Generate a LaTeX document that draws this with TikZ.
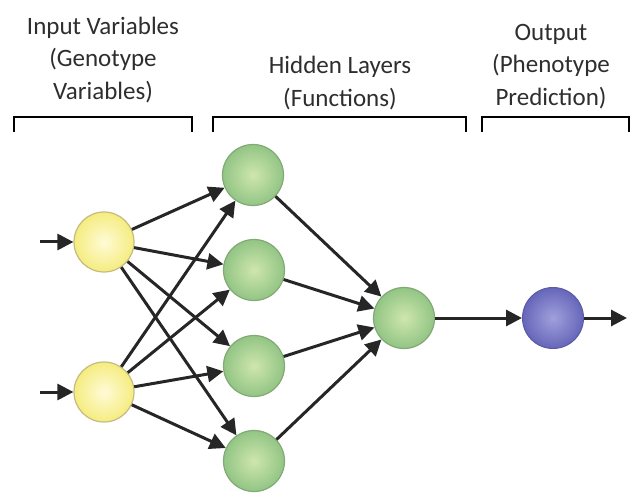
\documentclass[tikz,border=0pt]{standalone}
\usepackage{fontspec}
\setmainfont{Carlito}
\usetikzlibrary{arrows.meta}
\definecolor{yelo}{HTML}{F5EC80}
\definecolor{yeli}{HTML}{FFFBD6}
\definecolor{yelb}{HTML}{C4BC7C}
\definecolor{grno}{HTML}{92C585}
\definecolor{grni}{HTML}{CFE6AE}
\definecolor{grnb}{HTML}{82AA74}
\definecolor{puro}{HTML}{6666BA}
\definecolor{puri}{HTML}{A0A0DC}
\definecolor{purb}{HTML}{5A5AA4}
\definecolor{edge}{HTML}{262626}
\begin{document}
\begin{tikzpicture}[x=1pt,y=-1pt,
  lbl/.style={font=\fontsize{25}{32.7}\selectfont, align=center, text=black!82, inner sep=0pt},
  ynode/.style={circle, minimum size=60pt, inner sep=0pt, draw=yelb, line width=1.2pt, inner color=yeli, outer color=yelo},
  gnode/.style={circle, minimum size=61pt, inner sep=0pt, draw=grnb, line width=1.2pt, inner color=grni, outer color=grno},
  pnode/.style={circle, minimum size=61pt, inner sep=0pt, draw=purb, line width=1.0pt, inner color=puri, outer color=puro},
  conn/.style={draw=edge, line width=3pt, -{Triangle[length=16pt,width=16pt]}},
  brack/.style={draw=black, line width=2.6pt}
]
\useasboundingbox (0,0) rectangle (634,494);
% labels
\node[lbl] (tin) at (103,60) {Input Variables\\(Genotype\\Variables)};
\node[lbl] (thid) at (340,83) {Hidden Layers\\(Functions)};
\node[lbl] (tout) at (551,66.5) {Output\\(Phenotype\\Prediction)};
% brackets
\draw[brack] (14,132) -- (14,117) -- (192,117) -- (192,132);
\draw[brack] (213,132) -- (213,117) -- (466,117) -- (466,132);
\draw[brack] (482,132) -- (482,117) -- (629,117) -- (629,132);
% nodes
\node[ynode] (y1) at (104,242) {};
\node[ynode] (y2) at (104,392) {};
\node[gnode] (g1) at (253,175) {};
\node[gnode] (g2) at (254,270) {};
\node[gnode] (g3) at (254,366) {};
\node[gnode] (g4) at (254,461) {};
\node[gnode] (h) at (404,318) {};
\node[pnode] (o) at (553,318) {};
\coordinate (in1) at (40,242);
\coordinate (in2) at (40,392);
\coordinate (out) at (627,318);
% connectors
\draw[conn] (in1) -- (y1);
\draw[conn] (in2) -- (y2);
\foreach \a in {y1,y2}{
  \foreach \b in {g1,g2,g3,g4}{
    \draw[conn] (\a) -- (\b);
  }
}
\foreach \b in {g1,g2,g3,g4}{
  \draw[conn] (\b) -- (h);
}
\draw[conn] (h) -- (o);
\draw[conn] (o) -- (out);
\end{tikzpicture}
\end{document}
